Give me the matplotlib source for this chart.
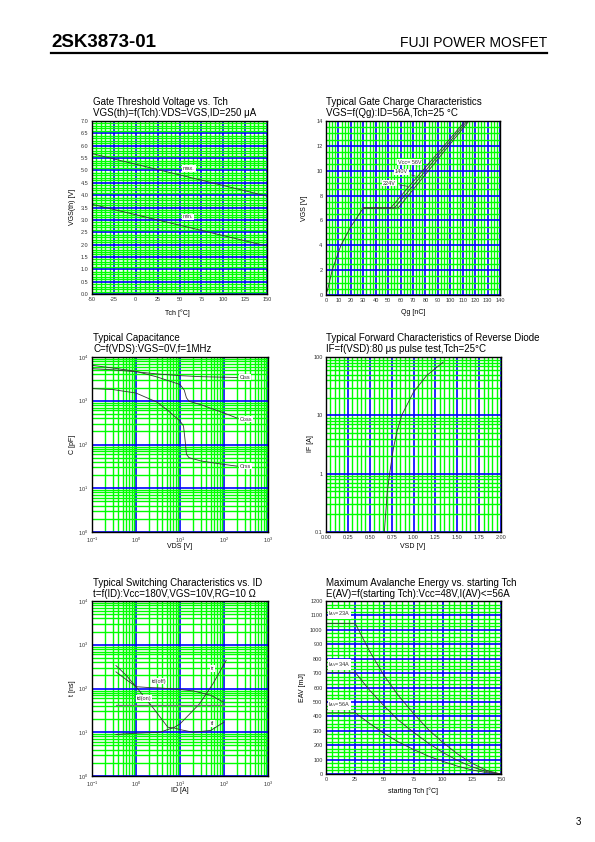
import matplotlib
matplotlib.use("Agg")
import matplotlib.pyplot as plt
import numpy as np
from matplotlib.ticker import MultipleLocator, LogLocator, FuncFormatter, NullFormatter
from matplotlib.lines import Line2D

plt.rcParams['font.family'] = ['Liberation Sans', 'DejaVu Sans']
plt.rcParams['axes.unicode_minus'] = False

W, H = 595, 842

# --- data ---
# gate threshold voltage
tch_vth = [-50, 150]
vth_max = [5.68, 3.96]
vth_min = [3.63, 1.94]

# gate charge (common part + 3 branches)
qg_start = [1, 5, 12, 20, 30]
vgs_start = [0.3, 2.0, 4.0, 5.5, 7.0]
qg_56 = [30, 52, 112]
qg_140 = [30, 55, 113.5]
qg_224 = [30, 58, 115]
vgs_branch = [7.0, 7.0, 14.0]

# capacitance
vds_ciss = [0.1, 0.3, 1, 3, 10, 30, 100, 200]
ciss = [5400, 5100, 4600, 4100, 3750, 3550, 3450, 3400]
vds_coss = [0.1, 0.3, 1, 3, 10, 12.5, 14, 16, 30, 100, 200]
coss = [6450, 5600, 4700, 3500, 2350, 1750, 1170, 975, 810, 525, 400]
vds_crss = [0.1, 0.3, 1, 3, 5, 10, 12, 13, 14, 16, 30, 100, 200]
crss = [1900, 1800, 1500, 930, 630, 345, 265, 130, 60, 50, 42, 35, 32]

# reverse diode
vsd = [0.667, 0.70, 0.73, 0.77, 0.81, 0.865, 1.0, 1.15, 1.34]
i_f = [0.1, 0.485, 1.07, 2.7, 5.2, 10, 25, 48, 82]

# switching times
id_tdoff = [0.35, 0.6, 1, 2, 3.5, 10, 20, 50, 100]
tdoff = [240, 160, 110, 105, 103, 95, 88, 70, 48]
id_tr = [0.35, 0.6, 1, 2.4, 5.3, 7, 10, 28, 56, 112]
tr = [335, 200, 110, 37, 13, 12.5, 15.5, 45, 128, 440]
id_tdon = [0.35, 100]
tdon = [41, 41]
id_tf = [0.35, 1, 3.5, 7, 10, 20, 50, 100]
tf = [8.9, 9.5, 10, 12.7, 11.5, 10, 11, 17]

# avalanche energy
tch_av = [0, 25, 37.5, 50, 62.5, 75, 87.5, 100, 112.5, 125, 137.5, 150]
eav_23 = [1045, 1045, 850, 680, 540, 420, 310, 220, 140, 75, 25, 0]
eav_34 = [705, 705, 580, 470, 370, 290, 215, 150, 95, 50, 17, 0]
eav_56 = [425, 425, 350, 280, 220, 170, 125, 88, 55, 28, 10, 0]

fig = plt.figure(figsize=(W / 100, H / 100), dpi=100)
fig.patch.set_facecolor('white')


def box(x0, y0, x1, y1):
    # pixel box -> axes
    ax = fig.add_axes([x0 / W, 1 - y1 / H, (x1 - x0) / W, (y1 - y0) / H])
    for s in ax.spines.values():
        s.set_linewidth(1.0)
        s.set_zorder(5)
    ax.tick_params(which='both', length=0, labelsize=4, colors='#333333', pad=2.5)
    return ax


def grids(ax):
    ax.grid(which='minor', color='#00ff00', lw=1.0, zorder=0)
    ax.grid(which='major', color='#0000ff', lw=1.2, zorder=1)
    ax.set_axisbelow(True)


def title(x, y, t1, t2):
    fig.text(x / W, 1 - y / H, t1, fontsize=7, va='center', ha='left')
    fig.text(x / W, 1 - (y + 11) / H, t2, fontsize=7, va='center', ha='left')


def xlab(x, y, t):
    fig.text(x / W, 1 - y / H, t, fontsize=5, ha='center', va='center')


def ylab(x, y, t):
    fig.text(x / W, 1 - y / H, t, fontsize=5, ha='center', va='center', rotation=90)


lc = '#333333'
lbl = dict(fontsize=4, color='#333333', ha='left', va='center',
           bbox=dict(facecolor='white', edgecolor='none', pad=0.6))

# header
fig.text(51 / W, 1 - 47 / H, '2SK3873-01', fontsize=13.5, fontweight='bold', va='baseline')
fig.text(547 / W, 1 - 47 / H, 'FUJI POWER MOSFET', fontsize=10, va='baseline', ha='right')
fig.add_artist(Line2D([51 / W, 547 / W], [1 - 53 / H, 1 - 53 / H], lw=1.6, color='black'))
fig.text(578 / W, 1 - 822 / H, '3', fontsize=7, ha='center', va='center')

# 1. gate threshold voltage
ax = box(92, 121, 267, 294)
ax.set_xlim(-50, 150)
ax.set_ylim(0, 7)
ax.xaxis.set_major_locator(MultipleLocator(25))
ax.xaxis.set_minor_locator(MultipleLocator(5))
ax.yaxis.set_major_locator(MultipleLocator(0.5))
ax.yaxis.set_minor_locator(MultipleLocator(0.1))
ax.yaxis.set_major_formatter(FuncFormatter(lambda v, p: '%.1f' % v))
grids(ax)
ax.plot(tch_vth, vth_max, color=lc, lw=0.6, zorder=3)
ax.plot(tch_vth, vth_min, color=lc, lw=0.6, zorder=3)
ax.text(54, 5.08, 'max.', zorder=4, **lbl)
ax.text(54, 3.12, 'min.', zorder=4, **lbl)
title(93, 102, 'Gate Threshold Voltage vs. Tch', 'VGS(th)=f(Tch):VDS=VGS,ID=250 \u03bcA')
xlab(177, 313, 'Tch [\u00b0C]')
ylab(73, 207, 'VGS(th) [V]')

# 2. gate charge
ax = box(326, 121, 500, 295)
ax.set_xlim(0, 140)
ax.set_ylim(0, 14)
ax.xaxis.set_major_locator(MultipleLocator(10))
ax.xaxis.set_minor_locator(MultipleLocator(2.5))
ax.yaxis.set_major_locator(MultipleLocator(2))
ax.yaxis.set_minor_locator(MultipleLocator(0.5))
grids(ax)
ax.plot(qg_start, vgs_start, color=lc, lw=0.6, zorder=3)
ax.plot(qg_56, vgs_branch, color=lc, lw=0.6, zorder=3)
ax.plot(qg_140, vgs_branch, color=lc, lw=0.6, zorder=3)
ax.plot(qg_224, vgs_branch, color=lc, lw=0.6, zorder=3)
ax.annotate('Vcc= 56V', xy=(76, 10.2), xytext=(58, 10.7), zorder=4,
            arrowprops=dict(arrowstyle='-', color=lc, lw=0.5), **lbl)
ax.annotate('140V', xy=(74, 9.5), xytext=(55.5, 9.9), zorder=4,
            arrowprops=dict(arrowstyle='-', color=lc, lw=0.5), **lbl)
ax.annotate('224V', xy=(68, 8.7), xytext=(46, 9.0), zorder=4,
            arrowprops=dict(arrowstyle='-', color=lc, lw=0.5), **lbl)
title(326, 102, 'Typical Gate Charge Characteristics', 'VGS=f(Qg):ID=56A,Tch=25 \u00b0C')
xlab(413, 313, 'Qg [nC]')
ylab(305, 208, 'VGS [V]')

# 3. capacitance
ax = box(92, 357, 268, 532)
ax.set_xscale('log')
ax.set_yscale('log')
ax.set_xlim(0.1, 1000)
ax.set_ylim(1, 10000)
for a in (ax.xaxis, ax.yaxis):
    a.set_major_locator(LogLocator(10))
    a.set_minor_locator(LogLocator(10, subs=np.arange(2, 10)))
    a.set_minor_formatter(NullFormatter())
grids(ax)
ax.plot(vds_ciss, ciss, color=lc, lw=0.6, zorder=3)
ax.plot(vds_coss, coss, color=lc, lw=0.6, zorder=3)
ax.plot(vds_crss, crss, color=lc, lw=0.6, zorder=3)
ax.text(230, 3490, 'Ciss', zorder=4, **lbl)
ax.text(230, 380, 'Coss', zorder=4, **lbl)
ax.text(230, 32, 'Crss', zorder=4, **lbl)
title(93, 338, 'Typical Capacitance', 'C=f(VDS):VGS=0V,f=1MHz')
xlab(180, 547, 'VDS [V]')
ylab(73, 444, 'C [pF]')

# 4. reverse diode
ax = box(326, 357, 501, 532)
ax.set_yscale('log')
ax.set_xlim(0, 2)
ax.set_ylim(0.1, 100)
ax.xaxis.set_major_locator(MultipleLocator(0.25))
ax.xaxis.set_minor_locator(MultipleLocator(0.05))
ax.xaxis.set_major_formatter(FuncFormatter(lambda v, p: '%.2f' % v))
ax.yaxis.set_major_locator(LogLocator(10))
ax.yaxis.set_minor_locator(LogLocator(10, subs=np.arange(2, 10)))
ax.yaxis.set_minor_formatter(NullFormatter())
ax.yaxis.set_major_formatter(FuncFormatter(lambda v, p: '%g' % v))
grids(ax)
ax.plot(vsd, i_f, color=lc, lw=0.6, zorder=3)
title(326, 338, 'Typical Forward Characteristics of Reverse Diode',
      'IF=f(VSD):80 \u03bcs pulse test,Tch=25\u00b0C')
xlab(413, 547, 'VSD [V]')
ylab(310, 444, 'IF [A]')

# 5. switching
ax = box(92, 601, 268, 776)
ax.set_xscale('log')
ax.set_yscale('log')
ax.set_xlim(0.1, 1000)
ax.set_ylim(1, 10000)
for a in (ax.xaxis, ax.yaxis):
    a.set_major_locator(LogLocator(10))
    a.set_minor_locator(LogLocator(10, subs=np.arange(2, 10)))
    a.set_minor_formatter(NullFormatter())
grids(ax)
ax.plot(id_tdoff, tdoff, color=lc, lw=0.6, zorder=3)
ax.plot(id_tr, tr, color=lc, lw=0.6, zorder=3)
ax.plot(id_tdon, tdon, color='#777777', lw=0.9, zorder=3)
ax.plot(id_tf, tf, color=lc, lw=0.6, zorder=3)
ax.text(51, 285, 'tr', zorder=4, **lbl)
ax.text(2.3, 148, 'td(off)', zorder=4, **lbl)
ax.text(1.04, 60, 'td(on)', zorder=4, **lbl)
ax.text(51, 15.8, 'tf', zorder=4, **lbl)
title(93, 583, 'Typical Switching Characteristics vs. ID', 't=f(ID):Vcc=180V,VGS=10V,RG=10 \u03a9')
xlab(180, 791, 'ID [A]')
ylab(73, 688, 't [ns]')

# 6. avalanche energy
ax = box(326, 601, 501, 774)
ax.set_xlim(0, 150)
ax.set_ylim(0, 1200)
ax.xaxis.set_major_locator(MultipleLocator(25))
ax.xaxis.set_minor_locator(MultipleLocator(5))
ax.yaxis.set_major_locator(MultipleLocator(100))
ax.yaxis.set_minor_locator(MultipleLocator(25))
grids(ax)
ax.plot(tch_av, eav_23, color=lc, lw=0.6, zorder=3)
ax.plot(tch_av, eav_34, color=lc, lw=0.6, zorder=3)
ax.plot(tch_av, eav_56, color=lc, lw=0.6, zorder=3)
ax.text(2, 1110, '$\\mathregular{I_{AV}}$=23A', zorder=4, **lbl)
ax.text(2, 760, '$\\mathregular{I_{AV}}$=34A', zorder=4, **lbl)
ax.text(2, 480, '$\\mathregular{I_{AV}}$=56A', zorder=4, **lbl)
title(326, 583, 'Maximum Avalanche Energy vs. starting Tch', 'E(AV)=f(starting Tch):Vcc=48V,I(AV)<=56A')
xlab(413, 791, 'starting Tch [\u00b0C]')
ylab(303, 688, 'EAV [mJ]')

fig.savefig('out.png', dpi=100, facecolor='white')
